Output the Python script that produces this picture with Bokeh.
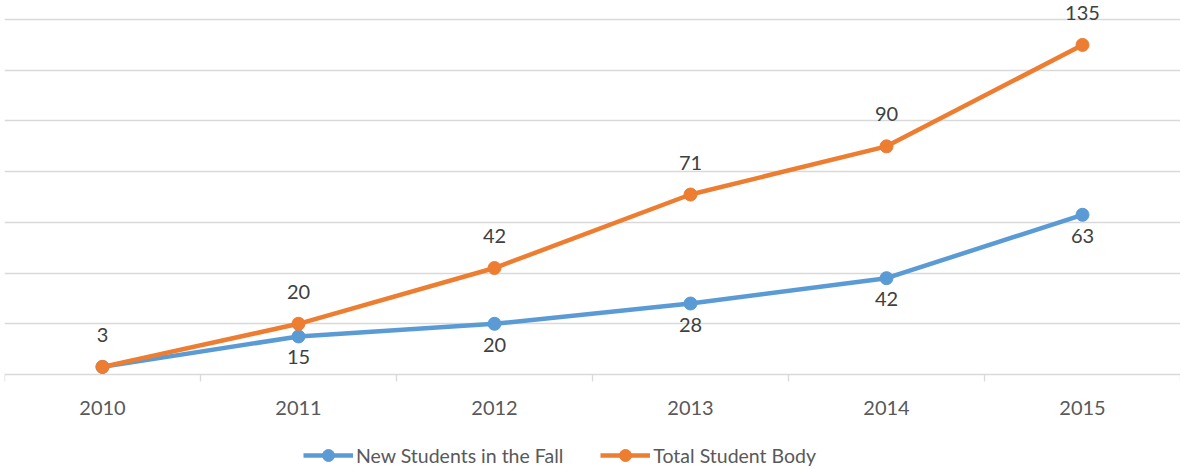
from bokeh.plotting import figure
from bokeh.models import (ColumnDataSource, FixedTicker, Grid, Legend, LegendItem, Range1d)
from bokeh.core.properties import value
from bokeh.embed import file_html
from bokeh.resources import INLINE

# ---- data ----
years = [2010, 2011, 2012, 2013, 2014, 2015]
year_labels = ["2010", "2011", "2012", "2013", "2014", "2015"]
new_students = [3, 15, 20, 28, 38, 63]
total_students = [3, 20, 42, 71, 90, 130]
new_labels = ["", "15", "20", "28", "42", "63"]
total_labels = ["3", "20", "42", "71", "90", "135"]
grid_values = [0, 20, 40, 60, 80, 100, 120, 140]
series_names = ["New Students in the Fall", "Total Student Body"]

BLUE = "#5B9BD5"
ORANGE = "#ED7D31"
GRID = "#d9d9d9"
FONT = "Lato"

src = ColumnDataSource(dict(x=years, new=new_students, total=total_students,
                            new_lab=new_labels, total_lab=total_labels,
                            year_lab=year_labels, zero=[0] * len(years)))
boundaries = [y - 0.5 for y in years] + [years[-1] + 0.5]
bsrc = ColumnDataSource(dict(x=boundaries, y=[0] * len(boundaries)))

p = figure(width=1180, height=470, output_backend="svg",
           toolbar_location=None, x_axis_location=None, y_axis_location=None,
           x_range=Range1d(years[0] - 0.5, years[-1] + 0.5),
           y_range=Range1d(-37.87, 147.53),
           min_border_left=4, min_border_right=0, min_border_top=0, min_border_bottom=0)
p.outline_line_color = None
p.background_fill_color = "white"
p.border_fill_color = "white"

# remove any default grids, then add the horizontal value grid
for g in p.grid:
    g.visible = False
p.add_layout(Grid(dimension=1, ticker=FixedTicker(ticks=grid_values),
                  grid_line_color=GRID, grid_line_width=1.3))

# category boundary tick marks below the baseline
p.ray("x", "y", source=bsrc, length=7, length_units="screen", angle=-90,
      angle_units="deg", line_color=GRID, line_width=1.3)
# category labels under the baseline
p.text("x", "zero", text="year_lab", source=src, text_font=value(FONT),
       text_font_size="20px", text_color="#595959", text_align="center",
       text_baseline="middle", y_offset=34)

bl = p.line("x", "new", source=src, color=BLUE, line_width=4.5)
bc = p.scatter("x", "new", source=src, color=BLUE, size=13)
ol = p.line("x", "total", source=src, color=ORANGE, line_width=4.5)
oc = p.scatter("x", "total", source=src, color=ORANGE, size=13)

p.text("x", "new", text="new_lab", source=src, text_font=value(FONT),
       text_font_size="20px", text_color="#404040", text_align="center",
       text_baseline="middle", y_offset=21)
p.text("x", "total", text="total_lab", source=src, text_font=value(FONT),
       text_font_size="20px", text_color="#404040", text_align="center",
       text_baseline="middle", y_offset=-32)

legend = Legend(items=[LegendItem(label=series_names[0], renderers=[bl, bc]),
                       LegendItem(label=series_names[1], renderers=[ol, oc])],
                orientation="horizontal", location=(299, 0),
                glyph_width=50, glyph_height=30, label_standoff=3, spacing=37,
                border_line_color=None, background_fill_alpha=0,
                label_text_font=FONT, label_text_font_size="19.5px",
                label_text_color="#595959", padding=0, margin=0)
p.add_layout(legend, "center")

open("out.html", "w").write(file_html(p, INLINE))
